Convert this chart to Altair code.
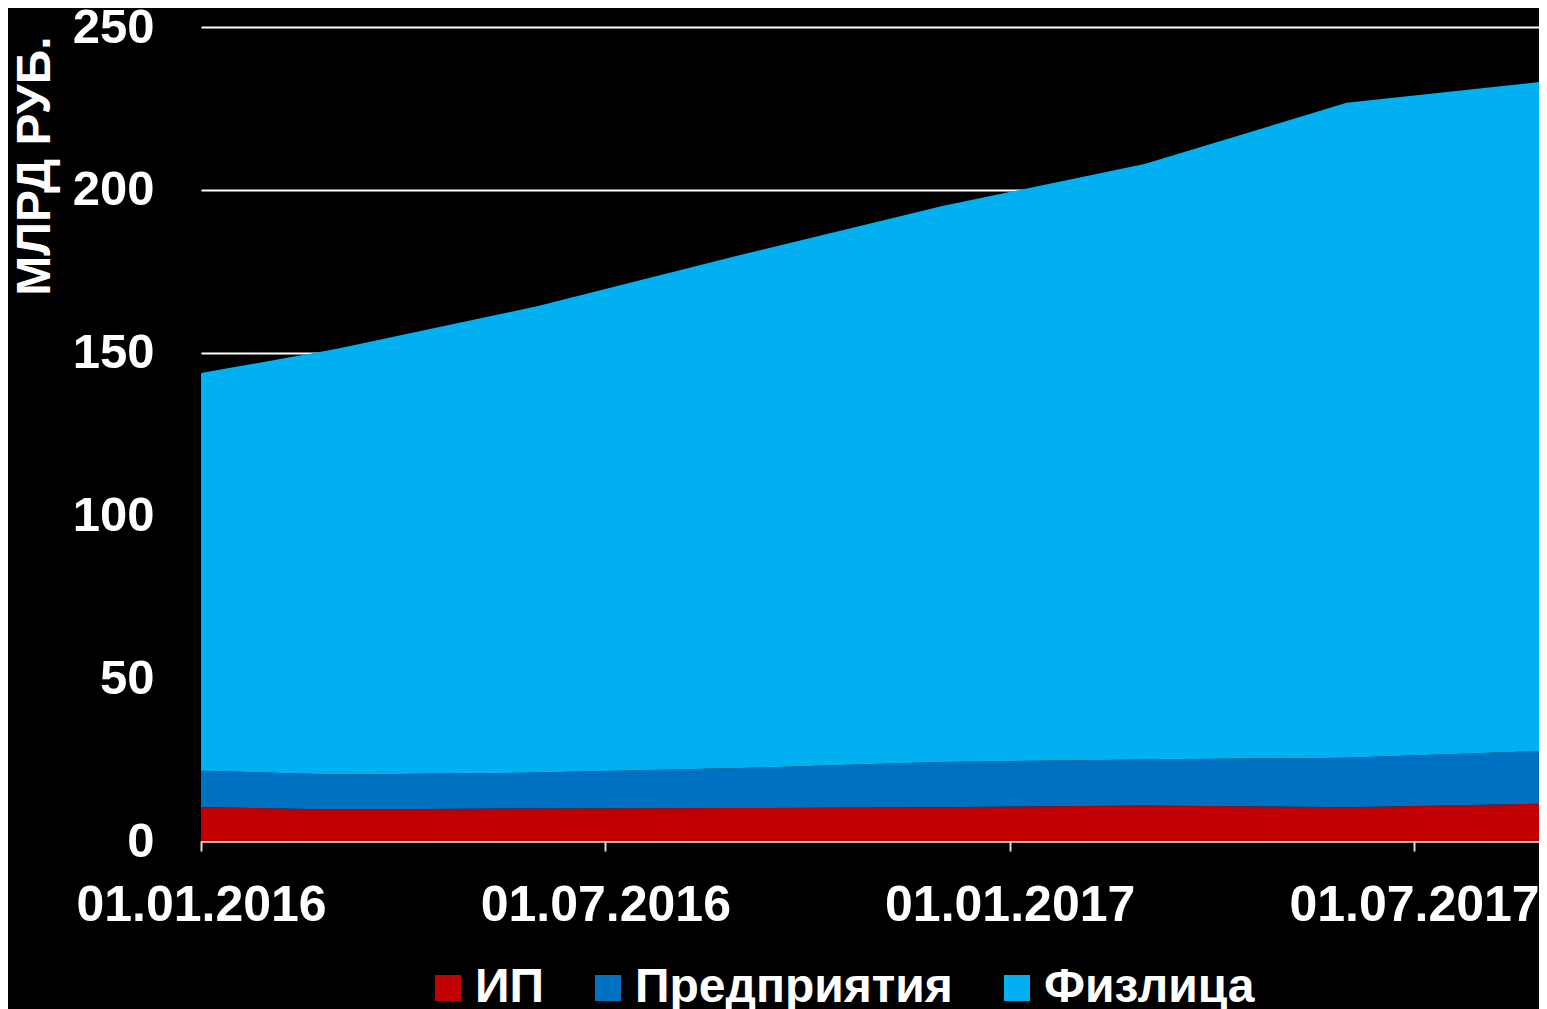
import altair as alt
import pandas as pd

# Data (млрд руб.)
dates = ["2016-01-01", "2016-03-01", "2016-06-01", "2016-09-01",
         "2016-12-01", "2017-03-01", "2017-06-01", "2017-09-01"]
ip = [10.4, 9.7, 10.0, 10.1, 10.4, 10.9, 10.4, 11.5]
predpr = [11.2, 10.7, 11.0, 12.3, 13.9, 14.1, 15.2, 16.2]
fizlica = [122.1, 130.7, 143.3, 157.6, 170.7, 182.9, 201.1, 205.7]

series_names = ["ИП", "Предприятия", "Физлица"]
series_values = [ip, predpr, fizlica]
colors = ["#C00000", "#0070C0", "#00B0F0"]
tick_dates = ["2016-01-01", "2016-07-01", "2017-01-01", "2017-07-01"]


def month_index(d):
    y, m, _ = d.split("-")
    return (int(y) - 2016) * 12 + int(m) - 1


rows = []
for order, (name, vals) in enumerate(zip(series_names, series_values)):
    for d, v in zip(dates, vals):
        rows.append({"date": d, "m": month_index(d), "series": name,
                     "value": v, "order": order})
df = pd.DataFrame(rows)

FONT = "Liberation Sans"
PLOT_W = 1338
PX_PER_MONTH = 67.39
X_MAX = PLOT_W / PX_PER_MONTH

label_expr = ("'01.' + ((datum.value % 12) + 1 < 10 ? '0' : '') + "
              "((datum.value % 12) + 1) + '.' + (2016 + floor(datum.value / 12))")

chart = alt.Chart(df).mark_area(opacity=1, clip=True).encode(
    x=alt.X("m:Q",
            scale=alt.Scale(domain=[0, X_MAX], nice=False, zero=False),
            axis=alt.Axis(values=[month_index(d) for d in tick_dates],
                          labelExpr=label_expr, title=None, grid=False,
                          domain=True, domainColor="#D9D9D9", domainWidth=2,
                          ticks=True, tickSize=10, tickColor="#D9D9D9",
                          tickWidth=2, labelColor="white", labelFont=FONT,
                          labelFontWeight="bold", labelFontSize=50,
                          labelPadding=29, labelFlush=False, labelLimit=0,
                          labelOverlap=False)),
    y=alt.Y("value:Q", stack="zero",
            scale=alt.Scale(domain=[0, 250], nice=False),
            axis=alt.Axis(values=[0, 50, 100, 150, 200, 250],
                          title="МЛРД РУБ.", titleColor="white",
                          titleFont=FONT, titleFontWeight="bold",
                          titleFontSize=48, titleAngle=270,
                          titleAlign="right", titleBaseline="middle",
                          titleX=-166, titleY=9, titleLimit=0,
                          grid=True, gridColor="white", gridWidth=2,
                          domain=False, ticks=False, tickSize=0,
                          labelColor="white", labelFont=FONT,
                          labelFontWeight="bold", labelFontSize=49,
                          labelPadding=47, labelLimit=0)),
    color=alt.Color("series:N",
                    scale=alt.Scale(domain=series_names, range=colors),
                    legend=alt.Legend(title=None, orient="none",
                                      direction="horizontal",
                                      legendX=223, legendY=937,
                                      symbolType="square", symbolSize=676,
                                      symbolStrokeWidth=0, symbolOpacity=1,
                                      labelColor="white", labelFont=FONT,
                                      labelFontWeight="bold",
                                      labelFontSize=48, labelOffset=3,
                                      labelLimit=0,
                                      columnPadding=40, padding=0)),
    order=alt.Order("order:Q", sort="ascending"),
).properties(
    width=PLOT_W,
    height=814,
    padding={"left": 193, "top": 19, "right": 0, "bottom": 168},
    autosize=alt.AutoSizeParams(type="none"),
    background="black",
).configure_view(stroke=None)

chart.save("out.html", embed_options={"renderer": "svg", "actions": False})
